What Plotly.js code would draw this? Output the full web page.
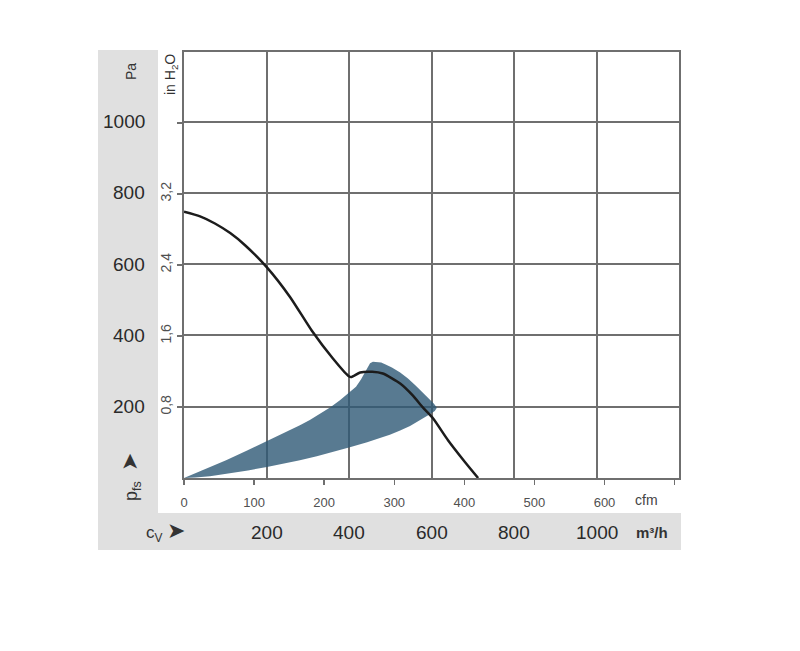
<!DOCTYPE html>
<html>
<head>
<meta charset="utf-8">
<script src="https://cdn.plot.ly/plotly-3.0.1.min.js"></script>
<style>html,body{margin:0;padding:0;background:#fff;}#chart{width:800px;height:651px;}</style>
</head>
<body>
<div id="chart"></div>
<script>
// ---- data ----
var curveFlow = [0, 39, 75, 112, 148, 201, 257, 310, 361, 398, 405, 427, 456, 482, 524, 555, 579, 604, 640, 681, 713];
var curvePressure = [747, 734, 714, 687, 653, 591, 508, 413, 335, 287, 283, 296, 298, 293, 265, 231, 198, 167, 106, 45, 0];

var areaFlow = [0, 51, 102, 153, 201, 252, 281, 305, 330, 354, 378, 402, 417, 429, 439, 446,
                451, 458, 468, 478, 490, 504, 524, 543, 562, 579, 594, 606, 613,
                608, 599, 587, 570, 548, 524, 499, 475, 444, 402, 364, 322, 281, 242, 201, 155, 112, 63, 27, 0];
var areaPressure = [0, 24, 50, 77, 103, 131, 148, 163, 180, 198, 218, 240, 256, 276, 297, 315,
                    322, 326, 326, 324, 318, 310, 296, 279, 259, 240, 222, 208, 197,
                    188, 181, 173, 162, 146, 133, 121, 112, 100, 86, 74, 61, 50, 40, 31, 21, 13, 5, 1.4, 0];

var flowTicks = [0, 200, 400, 600, 800, 1000, 1200];
var flowLabels = ['200', '400', '600', '800', '1000'];
var flowLabelVals = [200, 400, 600, 800, 1000];
var paTicks = [0, 200, 400, 600, 800, 1000];
var paLabels = ['200', '400', '600', '800', '1000'];
var paLabelVals = [200, 400, 600, 800, 1000];
var cfmTicks = [0, 100, 200, 300, 400, 500, 600, 700];
var cfmLabels = ['0', '100', '200', '300', '400', '500', '600', ''];
var inh2oTicks = [0.8, 1.6, 2.4, 3.2, 4.0];
var inh2oLabels = ['0,8', '1,6', '2,4', '3,2', ''];

// ---- geometry helpers (pixel -> paper) ----
var L = 184, T = 52, W = 495, H = 426;
function px(x) { return (x - L) / W; }
function py(y) { return (T + H - y) / H; }

var FLOW_MAX = 1200, PA_MAX = 1195;
var CFM_PER_M3H = 1 / 1.699;
var INH2O_PER_PA = 1 / 249.089;

var gridCol = '#6f6f6f';
var font = 'Liberation Sans, Arial, sans-serif';

var traces = [
  {
    x: areaFlow, y: areaPressure, type: 'scatter', mode: 'lines',
    fill: 'toself', fillcolor: 'rgba(46,89,117,0.8)',
    line: {width: 0, color: 'rgba(0,0,0,0)'}, hoverinfo: 'skip', showlegend: false
  },
  {
    x: curveFlow, y: curvePressure, type: 'scatter', mode: 'lines',
    line: {color: '#1c1c1c', width: 2.5, shape: 'spline', smoothing: 0.6},
    hoverinfo: 'skip', showlegend: false
  },
  {
    x: [0], y: [0], xaxis: 'x2', yaxis: 'y2', type: 'scatter', mode: 'markers',
    marker: {opacity: 0}, hoverinfo: 'skip', showlegend: false
  }
];

var annotations = [];
flowLabelVals.forEach(function (v, i) {
  annotations.push({x: v, xref: 'x', y: py(532), yref: 'paper', text: flowLabels[i],
    showarrow: false, xanchor: 'center', yanchor: 'middle',
    font: {family: font, size: 19, color: '#2a2a2a'}});
});
paLabelVals.forEach(function (v, i) {
  annotations.push({x: px(147), xref: 'paper', y: v, yref: 'y', text: paLabels[i],
    showarrow: false, xanchor: 'right', yanchor: 'middle',
    font: {family: font, size: 19, color: '#2a2a2a'}});
});
annotations.push({x: px(131), xref: 'paper', y: py(72), yref: 'paper', text: 'Pa', textangle: -90,
  showarrow: false, xanchor: 'center', yanchor: 'middle', font: {family: font, size: 14, color: '#333'}});
annotations.push({x: px(171), xref: 'paper', y: py(75), yref: 'paper', text: 'in H<sub>2</sub>O', textangle: -90,
  showarrow: false, xanchor: 'center', yanchor: 'middle', font: {family: font, size: 14, color: '#333'}});
annotations.push({x: px(646), xref: 'paper', y: py(500), yref: 'paper', text: 'cfm',
  showarrow: false, xanchor: 'center', yanchor: 'middle', font: {family: font, size: 14, color: '#444'}});
annotations.push({x: px(652), xref: 'paper', y: py(532), yref: 'paper', text: '<b>m³/h</b>',
  showarrow: false, xanchor: 'center', yanchor: 'middle', font: {family: font, size: 15, color: '#333'}});
annotations.push({x: px(130), xref: 'paper', y: py(477), yref: 'paper', text: 'p<sub>fs</sub>  <span style="font-size:22px">➤</span>', textangle: -90,
  showarrow: false, xanchor: 'center', yanchor: 'middle', font: {family: font, size: 18, color: '#333'}});
annotations.push({x: px(165), xref: 'paper', y: py(531), yref: 'paper', text: 'c<sub>V</sub> <span style="font-size:22px">➤</span>',
  showarrow: false, xanchor: 'center', yanchor: 'middle', font: {family: font, size: 17, color: '#333'}});

var shapes = [
  {type: 'rect', xref: 'paper', yref: 'paper', x0: px(98), x1: px(158), y0: py(550), y1: py(50),
    fillcolor: '#e0e0e0', line: {width: 0}, layer: 'below'},
  {type: 'rect', xref: 'paper', yref: 'paper', x0: px(98), x1: px(681), y0: py(550), y1: py(513),
    fillcolor: '#e0e0e0', line: {width: 0}, layer: 'below'}
];

var layout = {
  width: 800, height: 651,
  margin: {l: L, r: 800 - L - W, t: T, b: 651 - T - H, pad: 0},
  paper_bgcolor: '#ffffff', plot_bgcolor: '#ffffff',
  showlegend: false,
  xaxis: {range: [0, FLOW_MAX], tickvals: flowTicks, showticklabels: false, ticks: '',
    showgrid: true, gridcolor: gridCol, gridwidth: 2, zeroline: false,
    showline: true, linecolor: gridCol, linewidth: 2, mirror: true, fixedrange: true},
  yaxis: {range: [0, PA_MAX], tickvals: paTicks, showticklabels: false, ticks: '',
    showgrid: true, gridcolor: gridCol, gridwidth: 2, zeroline: false,
    showline: true, linecolor: gridCol, linewidth: 2, mirror: true, fixedrange: true},
  xaxis2: {overlaying: 'x', side: 'bottom', anchor: 'y', range: [0, FLOW_MAX * CFM_PER_M3H],
    tickvals: cfmTicks, ticktext: cfmLabels, ticks: 'outside', ticklen: 6, tickwidth: 1.5, tickcolor: gridCol,
    showgrid: false, zeroline: false, showline: false, ticklabelstandoff: 6,
    tickfont: {family: font, size: 13, color: '#505050'}, fixedrange: true},
  yaxis2: {overlaying: 'y', side: 'left', anchor: 'x', range: [0, PA_MAX * INH2O_PER_PA],
    tickvals: inh2oTicks, ticktext: inh2oLabels, ticks: 'outside', ticklen: 6, tickwidth: 1.5, tickcolor: gridCol,
    tickangle: -90, showgrid: false, zeroline: false, showline: false,
    tickfont: {family: font, size: 14, color: '#505050'}, fixedrange: true},
  annotations: annotations,
  shapes: shapes
};

Plotly.newPlot('chart', traces, layout, {staticPlot: true, displayModeBar: false});
</script>
</body>
</html>
